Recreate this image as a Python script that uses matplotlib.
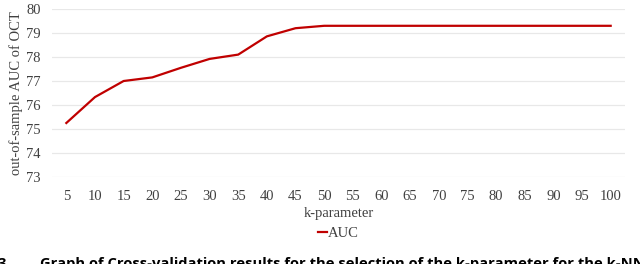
import matplotlib.pyplot as plt
import numpy as np

# k-parameter values and out-of-sample AUC
k_values = ['5', '10', '15', '20', '25', '30', '35', '40', '45', '50',
            '55', '60', '65', '70', '75', '80', '85', '90', '95', '100']
auc = [75.25, 76.33, 77.0, 77.15, 77.55, 77.92, 78.1, 78.86, 79.2, 79.3,
       79.3, 79.3, 79.3, 79.3, 79.3, 79.3, 79.3, 79.3, 79.3, 79.3]
y_ticks = [73, 74, 75, 76, 77, 78, 79, 80]

plt.rcParams['font.family'] = ['Liberation Serif', 'DejaVu Serif']

fig = plt.figure(figsize=(6.4, 2.64), dpi=100)
ax = fig.add_axes([52 / 640, 1 - 177 / 264, (625 - 52) / 640, (177 - 9) / 264])

x = np.arange(len(k_values))
ax.plot(x, auc, color='#C00000', linewidth=1.6, label='AUC')

ax.set_xlim(-0.5, len(k_values) - 0.5)
ax.set_ylim(73, 80)
ax.set_yticks(y_ticks)
ax.set_xticks(x)
ax.set_xticklabels(k_values)
ax.tick_params(axis='both', length=0, labelsize=10.5, colors='#404040')
ax.tick_params(axis='x', pad=9)
ax.tick_params(axis='y', pad=8)
ax.grid(axis='y', color='#e8e8e8', linewidth=0.9)
for s in ax.spines.values():
    s.set_visible(False)

ax.set_xlabel('k-parameter', fontsize=10.5, color='#404040', labelpad=3)
ax.set_ylabel('out-of-sample AUC of OCT', fontsize=10.5, color='#404040', labelpad=2)

ax.legend(loc='upper center', bbox_to_anchor=(0.5, -0.22), frameon=False,
          handlelength=0.6, handletextpad=0.1, fontsize=10.5, labelcolor='#404040')

# caption under the chart, cut off by the bottom edge as in the source
cap_font = dict(family=['Open Sans', 'DejaVu Sans'], fontweight='bold', fontsize=10.6, va='top', ha='left')
fig.text(-0.004, 1 - 257 / 264, '3.', **cap_font)
fig.text(40 / 640, 1 - 257 / 264,
         'Graph of Cross-validation results for the selection of the k-parameter for the k-NN', **cap_font)

fig.savefig('out.png', dpi=100)
